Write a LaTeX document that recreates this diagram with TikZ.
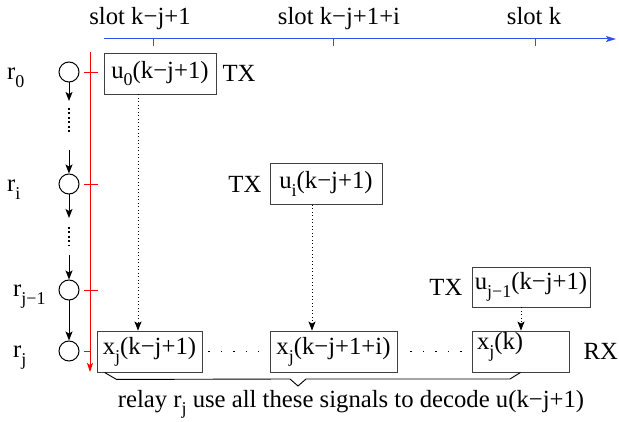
\documentclass[tikz,border=0pt]{standalone}
\usepackage{fontspec}
\setmainfont{Liberation Serif}
\usepackage{xcolor}
\usepackage{tikz}
\usetikzlibrary{arrows.meta,positioning}

\definecolor{slotblue}{RGB}{50,80,240}
\newcommand{\lowidx}[1]{\raisebox{-0.7ex}{\fontsize{18}{18}\selectfont #1}}

\begin{document}
\begin{tikzpicture}[x=1pt,y=-1pt,font=\fontsize{24.7}{28}\selectfont,
		relay/.style={draw,circle,minimum size=20pt,inner sep=0pt,line width=1pt},
		sigbox/.style={draw=black!75,line width=0.9pt,inner sep=0pt,minimum height=41pt},
		word/.style={inner sep=0pt},
		hop/.style={line width=1pt,-{Stealth[length=9pt,width=7pt,inset=2pt]}},
		gap/.style={line width=1.2pt,dash pattern=on 2pt off 2.5pt},
		sig/.style={line width=0.9pt,dash pattern=on 0.9pt off 2.6pt,-{Stealth[length=9pt,width=7pt,inset=2pt]}},
		pause/.style={line width=1.5pt,dash pattern=on 1.5pt off 11pt},
		redtick/.style={red,line width=0.9pt}]
				\useasboundingbox (0,0) rectangle (619,422);

				\coordinate (t0) at (104,39);
				\coordinate (t1) at (616,39);
				\draw[slotblue,line width=1pt,-{Stealth[length=10pt,width=6pt,inset=2pt]}] (t0) -- (t1);
				\foreach \tx/\lx/\lab [count=\n] in {153/140/slot k−j+1, 333/339/slot k−j+1+i, 535/534/slot k}{
					\coordinate (tk\n) at (\tx,39);
					\draw[slotblue,line width=0.9pt] (tk\n) -- ++(0,7);
					\node[word,anchor=base] (slot\n) at (\lx,25) {\lab};
				}

				\node[relay] (r0) at (69,72) {};
				\node[relay] (ri) at (69,184) {};
				\node[relay] (rj1) at (69,290) {};
				\node[relay] (rj) at (69,351) {};
				\node[word,anchor=base west] (lr0) at (7,80) {r\lowidx{0}};
				\node[word,anchor=base west] (lri) at (7,192) {r\lowidx{i}};
				\node[word,anchor=base west] (lrj1) at (13,297) {r\lowidx{j−1}};
				\node[word,anchor=base west] (lrj) at (13,358) {r\lowidx{j}};

				\coordinate (b1) at (69,101);
				\coordinate (b2) at (69,108);
				\coordinate (b3) at (69,133);
				\coordinate (b4) at (69,150);
				\coordinate (b5) at (69,218);
				\coordinate (b6) at (69,227);
				\coordinate (b7) at (69,246);
				\coordinate (b8) at (69,255);
				\draw[hop] (r0) -- (b1);
				\draw[gap] (b2) -- (b3);
				\draw[hop] (b4) -- (ri);
				\draw[hop] (ri) -- (b5);
				\draw[gap] (b6) -- (b7);
				\draw[hop] (b8) -- (rj1);
				\draw[hop] (rj1) -- (rj);

				\coordinate (ax0) at (90,52);
				\coordinate (ax1) at (90,372);
				\draw[red,line width=0.9pt,-{Stealth[length=9pt,width=6pt,inset=2pt]}] (ax0) -- (ax1);
				\draw[redtick] ([xshift=4pt]r0.east) -- ([xshift=18pt]r0.east);
				\draw[redtick] ([xshift=4pt]ri.east) -- ([xshift=18pt]ri.east);
				\draw[redtick] ([xshift=4pt]rj1.east) -- ([xshift=18pt]rj1.east);
				\draw[redtick] ([xshift=4pt]rj.east) -- ([xshift=11pt]rj.east);

				\node[sigbox,minimum width=112pt] (u0) at (160,73.5) {u\lowidx{0}(k−j+1)};
				\node[sigbox,minimum width=112pt] (ui) at (326,184) {u\lowidx{i}(k−j+1)};
				\node[sigbox,minimum width=118pt,minimum height=40pt] (uj1) at (531,287) {u\lowidx{j−1}(k−j+1)};
				\node[sigbox,minimum width=105pt] (x1) at (149.5,351.5) {x\lowidx{j}(k−j+1)};
				\node[sigbox,minimum width=127pt] (x2) at (333.5,351.5) {x\lowidx{j}(k−j+1+i)};
				\node[sigbox,inner xsep=5pt,text width=87pt,align=left] (x3) at (520.5,351.5) {\raisebox{5pt}[\height][\depth]{x\lowidx{j}(k)}};

				\node[word,right=6pt of u0] (tx0) {TX};
				\node[word,left=8pt of ui] (txi) {TX};
				\node[word,left=9pt of uj1] (txj1) {TX};
				\node[word,right=14pt of x3] (rx) {RX};

				\draw[sig] ([xshift=-22pt]u0.south) -- ([xshift=-11.5pt]x1.north);
				\draw[sig] ([xshift=-14pt]ui.south) -- ([xshift=-21.5pt]x2.north);
				\draw[sig] ([xshift=-10pt]uj1.south) -- ([xshift=0.5pt]x3.north);

				\draw[pause,shorten <=6pt,shorten >=10.5pt] (x1.east) -- (x2.west);
				\draw[pause,shorten <=13pt,shorten >=10pt] (x2.east) -- (x3.west);

				\coordinate (bt) at (298,386);
				\draw[line width=0.9pt] ([xshift=8pt]x1.south west) -- ++(12,7) -- (290,379) -- (bt) -- (306,379) -- (510,379) -- (x3.south);
				\node[word,anchor=base] (note) at (351,407) {relay r\lowidx{j} use all these signals to decode u(k−j+1)};
			\end{tikzpicture}
\end{document}
